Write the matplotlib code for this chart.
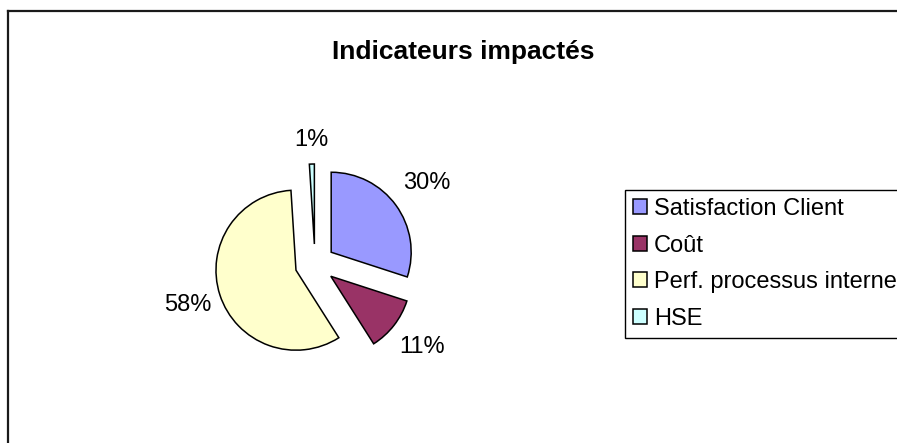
import math
import matplotlib.pyplot as plt
from matplotlib.lines import Line2D

plt.rcParams['font.family'] = ['Liberation Sans', 'DejaVu Sans']

categories = ['Satisfaction Client', 'Coût', 'Perf. processus interne', 'HSE']
values = [30, 11, 58, 1]
colors = ['#9999FF', '#993366', '#FFFFCC', '#CCFFFF']

W, H = 897, 443
fig = plt.figure(figsize=(W / 100, H / 100), dpi=100)

# pie axes: centre at (315, 264) px, radius 80 px
cx, cy, r = 315, 264, 80
half = 1.8 * r
ax = fig.add_axes([(cx - half) / W, (H - cy - half) / H, 2 * half / W, 2 * half / H])
wedges, texts, autotexts = ax.pie(
    values, colors=colors, startangle=90, counterclock=False,
    explode=[0.25] * 4, radius=1, autopct='%1.0f%%', pctdistance=1.42,
    wedgeprops=dict(edgecolor='black', linewidth=1.1, clip_on=False),
    textprops=dict(fontsize=17, color='black'))
ax.set_xlim(-1.8, 1.8)
ax.set_ylim(-1.8, 1.8)
ax.set_aspect('equal')
ax.axis('off')

# fine tune label distances (Excel puts them just outside the arc)
label_dist = [1.47, 1.45, 1.42, 1.30]
for w, t, d in zip(wedges, autotexts, label_dist):
    th = math.radians((w.theta1 + w.theta2) / 2)
    x0, y0 = w.center
    t.set_position((x0 + d * math.cos(th), y0 + d * math.sin(th)))
    t.set_ha('center')
    t.set_va('center')

fig.text(463 / W, 1 - 52 / H, 'Indicateurs impactés', ha='center', va='center',
         fontsize=19, fontweight='bold')

leg = fig.legend(wedges, categories, loc='upper left',
                 bbox_to_anchor=(625 / W, 1 - 190 / H), bbox_transform=fig.transFigure,
                 borderaxespad=0, fancybox=False, edgecolor='black', framealpha=1,
                 fontsize=17, handlelength=0.6, handleheight=0.6,
                 handletextpad=0.28, borderpad=0.34, labelspacing=0.62)
leg.get_frame().set_linewidth(1.0)

# outer chart frame (only top and left edges are visible)
fig.add_artist(Line2D([8 / W, 1], [1 - 11 / H, 1 - 11 / H], color='#1a1a1a', linewidth=1.6,
                      transform=fig.transFigure))
fig.add_artist(Line2D([8 / W, 8 / W], [1 - 11 / H, 0], color='#1a1a1a', linewidth=1.6,
                      transform=fig.transFigure))

fig.savefig('out.png', dpi=100)
